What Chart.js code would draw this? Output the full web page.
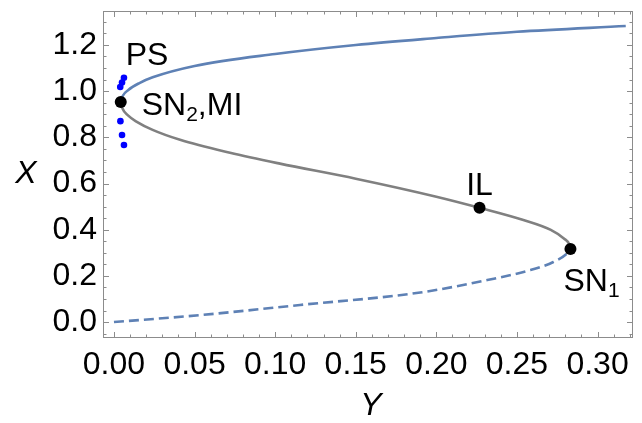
<!DOCTYPE html>
<html>
<head>
<meta charset="utf-8">
<script src="https://cdn.jsdelivr.net/npm/chart.js@4.4.1/dist/chart.umd.min.js"></script>
<style>
  html, body { margin: 0; padding: 0; background: #fff; }
</style>
</head>
<body>
<canvas id="bif" width="642" height="423"></canvas>
<script>
// Upper stable branch: Y (horizontal) and X (vertical)
const upperY = [0.0042, 0.0055, 0.0089, 0.0158, 0.0240, 0.050, 0.100, 0.150, 0.200, 0.250, 0.3175];
const upperX = [0.953, 0.980, 1.005, 1.035, 1.060, 1.109, 1.161, 1.200, 1.230, 1.257, 1.282];

// Middle unstable branch (gray)
const middleY = [0.0042, 0.0053, 0.0087, 0.0142, 0.024, 0.041, 0.072, 0.103, 0.150, 0.200, 0.2268, 0.254, 0.271, 0.2795, 0.2825, 0.2832];
const middleX = [0.953, 0.925, 0.895, 0.867, 0.832, 0.789, 0.733, 0.686, 0.621, 0.543, 0.495, 0.442, 0.399, 0.360, 0.336, 0.316];

// Lower branch (dashed)
const lowerY = [0, 0.0533, 0.1154, 0.190, 0.2316, 0.2584, 0.2726, 0.2814, 0.2832];
const lowerX = [0, 0.030, 0.074, 0.128, 0.182, 0.225, 0.260, 0.299, 0.316];

// PS points
const psY = [0.0062, 0.0050, 0.0039, 0.0040, 0.0050, 0.0062];
const psX = [1.058, 1.037, 1.018, 0.870, 0.810, 0.767];

// labelled special points: SN2/MI, IL, SN1
const specialY = [0.0042, 0.2268, 0.2832];
const specialX = [0.953, 0.495, 0.316];

const xTickVals = [0, 0.05, 0.10, 0.15, 0.20, 0.25, 0.30];
const yTickVals = [0, 0.2, 0.4, 0.6, 0.8, 1.0, 1.2];
const xRange = [-0.0068, 0.322];
const yRange = [-0.069, 1.347];

const BLUE = '#5e81b5';
const GRAY = '#808080';
const FONT = '"Liberation Sans", Arial, sans-serif';
const FS = 32;

const pts = (xs, ys) => xs.map((v, i) => ({ x: v, y: ys[i] }));

// minor tick positions (frame ticks, Mathematica style)
const xMinor = [];
for (let i = 0; i <= 32; i++) xMinor.push(i / 100);
const yMinor = [];
for (let i = -1; i <= 26; i++) yMinor.push(i / 20);

const isMajor = (v, list) => list.some(t => Math.abs(t - v) < 1e-9);

const framePlugin = {
  id: 'frame',
  afterDraw(chart) {
    const { ctx, chartArea: a, scales: { x, y } } = chart;
    ctx.save();
    ctx.strokeStyle = '#8c8c8c';
    ctx.lineWidth = 1;
    ctx.strokeRect(a.left + 0.5, a.top + 0.5, a.right - a.left - 1, a.bottom - a.top - 1);
    ctx.beginPath();
    xMinor.forEach(v => {
      const len = isMajor(v, xTickVals) ? 6 : 3.5;
      const px = Math.round(x.getPixelForValue(v)) + 0.5;
      ctx.moveTo(px, a.bottom); ctx.lineTo(px, a.bottom - len);
      ctx.moveTo(px, a.top); ctx.lineTo(px, a.top + len);
    });
    yMinor.forEach(v => {
      const len = isMajor(v, yTickVals) ? 6 : 3.5;
      const py = Math.round(y.getPixelForValue(v)) + 0.5;
      ctx.moveTo(a.left, py); ctx.lineTo(a.left + len, py);
      ctx.moveTo(a.right, py); ctx.lineTo(a.right - len, py);
    });
    ctx.stroke();

    // axis titles
    ctx.fillStyle = '#000';
    ctx.font = 'italic ' + FS + 'px ' + FONT;
    ctx.textAlign = 'center';
    ctx.textBaseline = 'middle';
    ctx.fillText('X', 26, (a.top + a.bottom) / 2);
    ctx.fillText('Y', (a.left + a.right) / 2 + 3, 406);

    // point labels
    const drawParts = (parts, px, py) => {
      ctx.textAlign = 'left';
      ctx.textBaseline = 'alphabetic';
      let cx = px;
      parts.forEach(p => {
        ctx.font = (p.sub ? '21px ' : FS + 'px ') + FONT;
        ctx.fillText(p.t, cx, py + (p.sub ? 6 : 0));
        cx += ctx.measureText(p.t).width;
      });
    };
    const sx = i => x.getPixelForValue(specialY[i]);
    const sy = i => y.getPixelForValue(specialX[i]);
    drawParts([{ t: 'PS' }], sx(0) + 5, sy(0) - 37);
    drawParts([{ t: 'SN' }, { t: '2', sub: true }, { t: ',MI' }], sx(0) + 21, sy(0) + 13);
    ctx.font = FS + 'px ' + FONT;
    ctx.textAlign = 'center';
    ctx.textBaseline = 'alphabetic';
    ctx.fillText('IL', sx(1), sy(1) - 13);
    drawParts([{ t: 'SN' }, { t: '1', sub: true }], sx(2) - 7, sy(2) + 42);
    ctx.restore();
  }
};

new Chart(document.getElementById('bif'), {
  type: 'scatter',
  data: {
    datasets: [
      {
        data: pts(specialY, specialX),
        backgroundColor: '#000', borderWidth: 0, pointRadius: 6, showLine: false
      },
      {
        data: pts(psY, psX),
        backgroundColor: '#0000ff', borderWidth: 0, pointRadius: 3.3, showLine: false
      },
      {
        data: pts(upperY, upperX),
        showLine: true, borderColor: BLUE, borderWidth: 2.6, pointRadius: 0,
        cubicInterpolationMode: 'monotone', fill: false
      },
      {
        data: pts(middleY, middleX),
        showLine: true, borderColor: GRAY, borderWidth: 2.6, pointRadius: 0,
        cubicInterpolationMode: 'monotone', fill: false
      },
      {
        data: pts(lowerY, lowerX),
        showLine: true, borderColor: BLUE, borderWidth: 2.6, borderDash: [10, 5], pointRadius: 0,
        cubicInterpolationMode: 'monotone', fill: false
      }
    ]
  },
  options: {
    responsive: false,
    animation: false,
    layout: { padding: { left: 0, top: 11, right: 9, bottom: 0 } },
    plugins: { legend: { display: false }, tooltip: { enabled: false } },
    scales: {
      x: {
        type: 'linear', min: xRange[0], max: xRange[1],
        grid: { display: false, drawTicks: false }, border: { display: false },
        afterBuildTicks: s => { s.ticks = xTickVals.map(v => ({ value: v })); },
        afterFit: s => { s.height = 85; s.paddingLeft = 0; s.paddingRight = 0; },
        ticks: { color: '#000', font: { family: FONT, size: FS }, padding: 8, maxRotation: 0, autoSkip: false,
                 callback: v => Number(v).toFixed(2) }
      },
      y: {
        type: 'linear', min: yRange[0], max: yRange[1],
        grid: { display: false, drawTicks: false }, border: { display: false },
        afterBuildTicks: s => { s.ticks = yTickVals.map(v => ({ value: v })); },
        afterFit: s => { s.width = 103; s.paddingTop = 0; s.paddingBottom = 0; },
        ticks: { color: '#000', font: { family: FONT, size: FS }, padding: 6, autoSkip: false,
                 callback: v => Number(v).toFixed(1) }
      }
    }
  },
  plugins: [framePlugin]
});
</script>
</body>
</html>
